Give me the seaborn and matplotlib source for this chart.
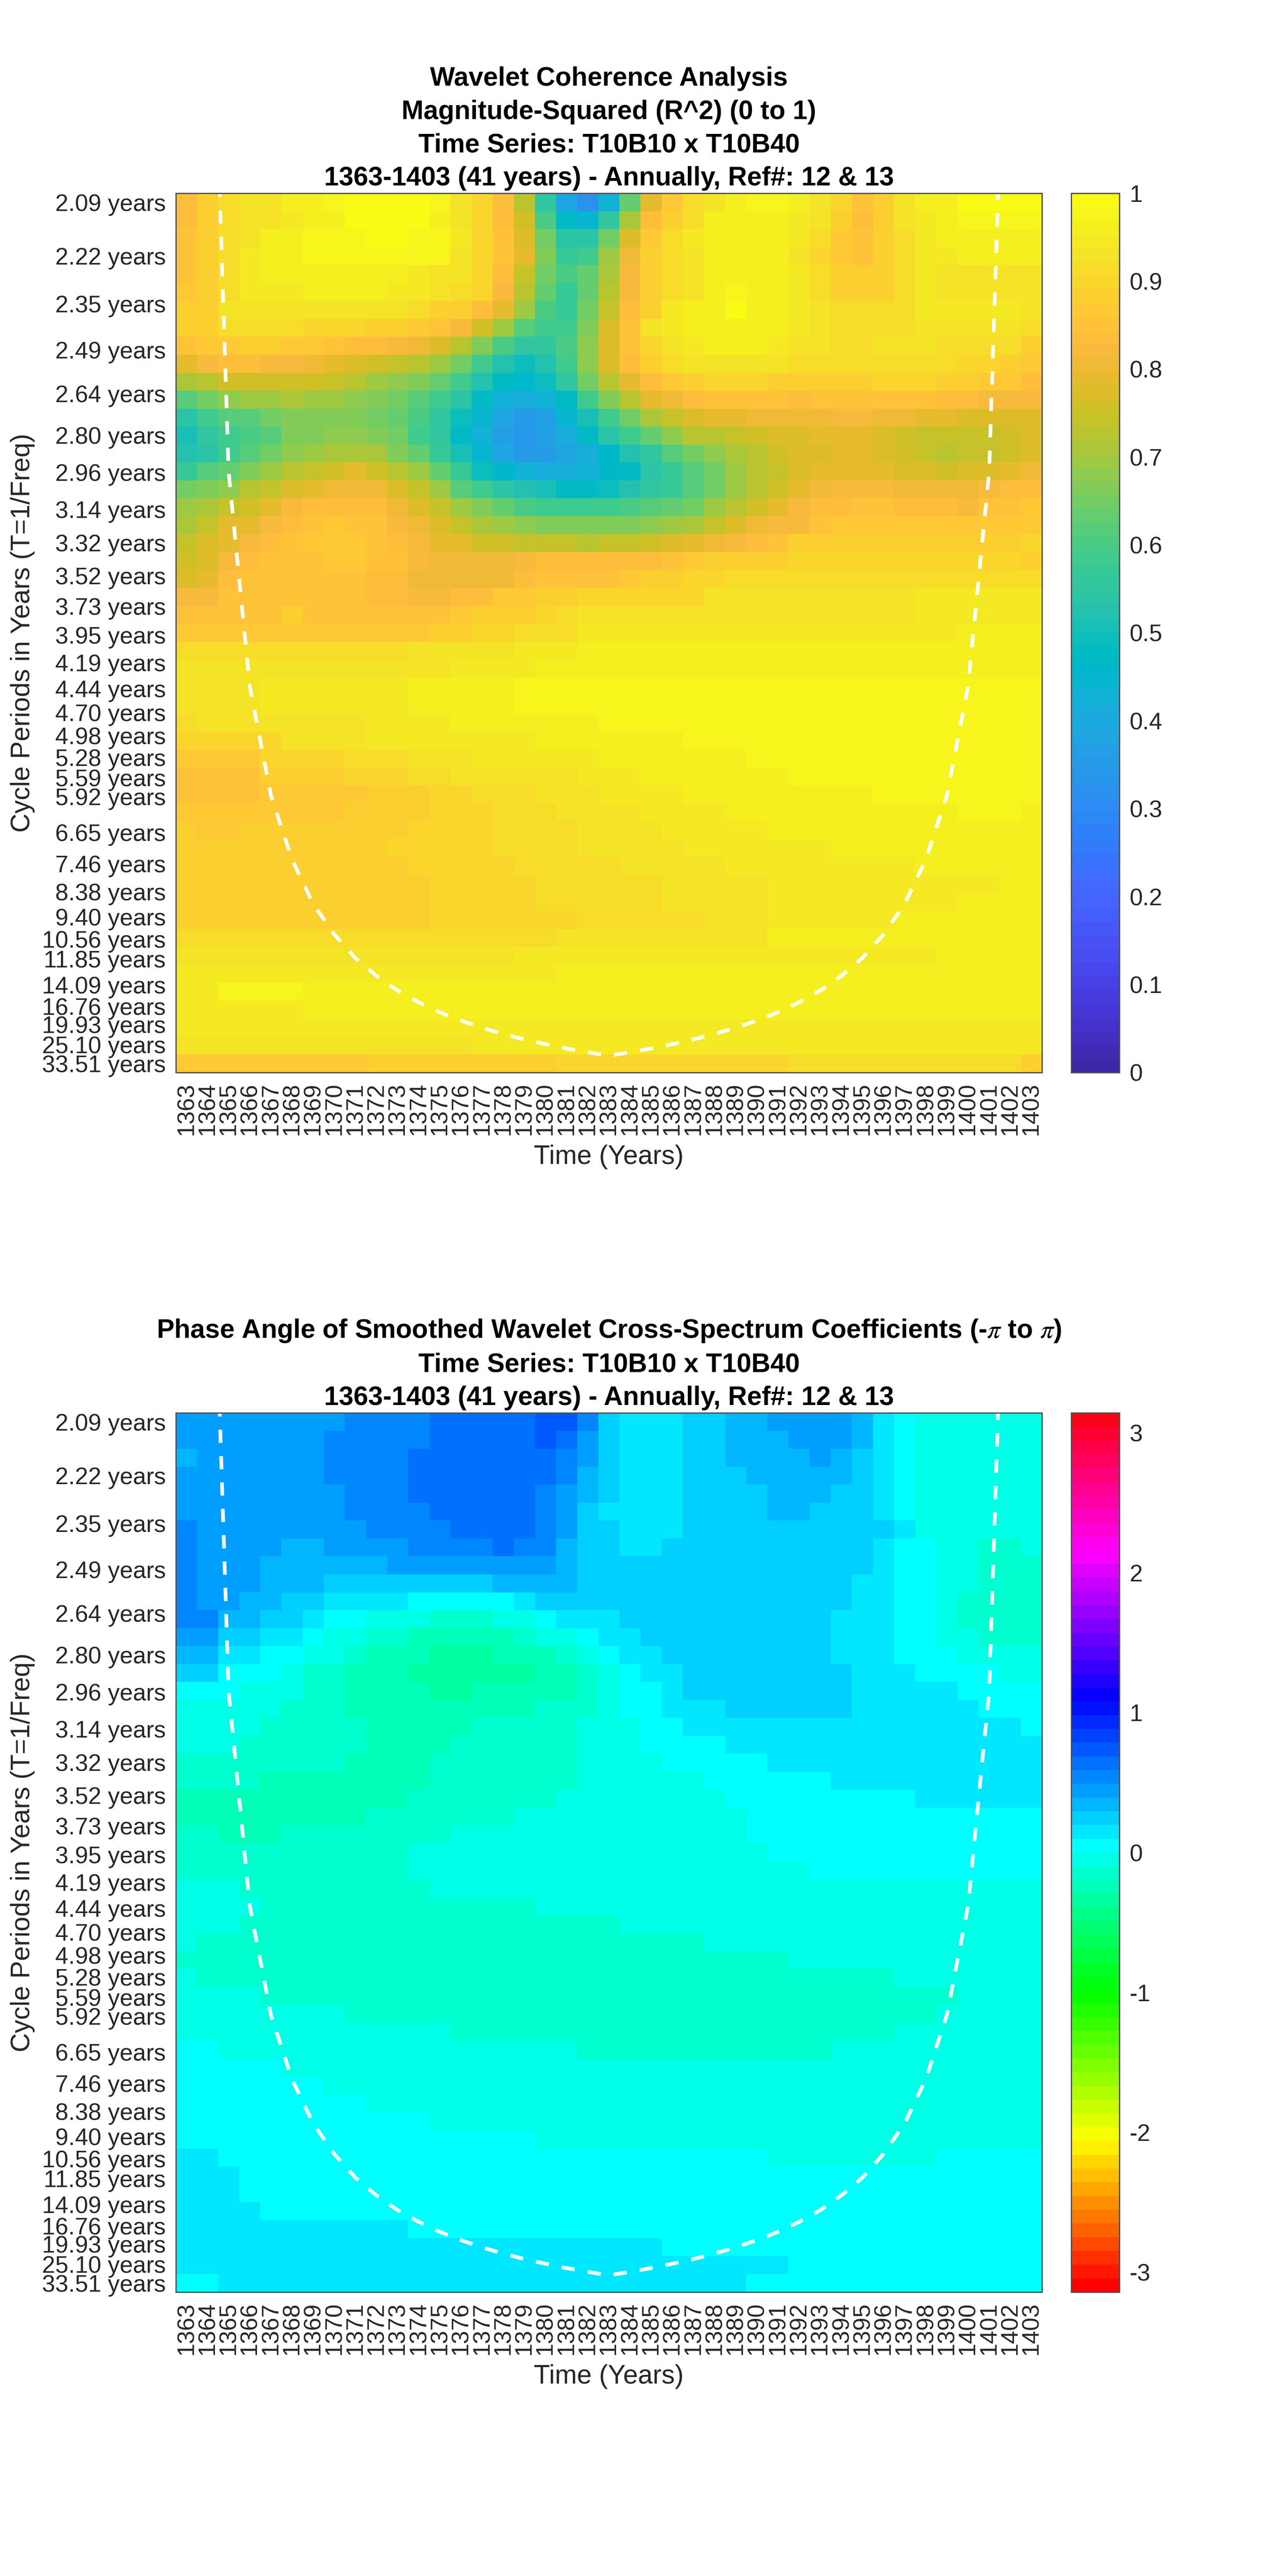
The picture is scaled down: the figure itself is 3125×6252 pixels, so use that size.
import numpy as np
import pandas as pd
import matplotlib
matplotlib.use("Agg")
import matplotlib.pyplot as plt
from matplotlib.colors import ListedColormap, hsv_to_rgb
import seaborn as sns

# ---------- axes labels ----------
years = list(range(1363, 1404))
tick_periods = [2.09, 2.22, 2.35, 2.49, 2.64, 2.80, 2.96, 3.14, 3.32, 3.52, 3.73, 3.95, 4.19, 4.44, 4.70,
                4.98, 5.28, 5.59, 5.92, 6.27, 6.65, 7.05, 7.46, 7.91, 8.38, 8.88, 9.40, 9.96, 10.56, 11.19,
                11.85, 12.55, 13.30, 14.09, 14.93, 15.82, 16.76, 17.76, 18.81, 19.93, 21.11, 22.37, 23.70,
                25.10, 26.60, 28.18, 29.86, 31.63, 33.51]
labelled_periods = [2.09, 2.22, 2.35, 2.49, 2.64, 2.80, 2.96, 3.14, 3.32, 3.52, 3.73, 3.95, 4.19, 4.44, 4.70,
                    4.98, 5.28, 5.59, 5.92, 6.65, 7.46, 8.38, 9.40, 10.56, 11.85, 14.09, 16.76, 19.93, 25.10, 33.51]

# cone of influence, read per year (period in years)
coi_years = [1364, 1365, 1366, 1367, 1368, 1369, 1370, 1371, 1372, 1373, 1374, 1375, 1376, 1377, 1378, 1379, 1380,
             1381, 1382, 1383, 1384, 1385, 1386, 1387, 1388, 1389, 1390, 1391, 1392, 1393, 1394, 1395, 1396, 1397,
             1398, 1399, 1400, 1401, 1402]
coi_periods = [1.47, 2.96, 4.42, 5.90, 7.35, 8.85, 10.3, 11.8, 13.25, 14.75, 16.2, 17.7, 19.15, 20.65, 22.1, 23.6,
               25.05, 26.55, 28.0, 29.5, 28.0, 26.55, 25.05, 23.6, 22.1, 20.65, 19.15, 17.7, 16.2, 14.75, 13.25,
               11.8, 10.3, 8.85, 7.35, 5.90, 4.42, 2.96, 1.47]

# ---------- coherence: one letter per cell = colour level ----------
coh_code = "RQPONMLKJIHGFEDCBAzyxwvutsrqponmlkjihgfedcba"   # R = level 20 ... a = level 63
coh_rows = [
 "khfee ccbaa aabeg krCNR Kxnif ecbbc egjhe ccaaa a",
 "khfee dccaa aaceg kpzHJ Cskhf ccccd ehkhe dcbbb b",
 "jhfec cbbba abbdg jowDD woifd ccccd fijhf dcccc c",
 "jhfdc cbbbb bbbeg jnvBA tmhfe cccce gijhf ddccc c",
 "jhfdc ccccc cdeeg kqwzx slhfe ccccd fhhhf deeee e",
 "ihfdd dcccc ddefg lrxBx rlhfe cbccd fhhhf deeee e",
 "hheee eeeee efhhk ntzBw qkhdc caccd effff ddddd e",
 "hhfff fgggh hijlp tyAAv ojedc ccccd effff eeeee f",
 "jiihh iijkk lmorv zCCzu ojged cccde effee effff h",
 "nlkkl lmnop qrtwA EGEAu okhfe eeeef fffff ffggh i",
 "srppp ppqrt uvxAE HIGCw rnkih ggghh hhhgg ghhii k",
 "ywutt sttuv wyADH KLKHA vrnmk jjjjk jjjjj jkkll l",
 "DAyyw vvvvw xzCGJ NPOJF Awsqo nnmmm mllmm nnooo o",
 "FCAzy vvuuv wACHK OQOLH DAxur rqpoo nnnop qqqqp o",
 "EDAyw utsss vxBFJ NPPNL IECyw usrpo onnop qrqqp o",
 "Byxvt rqpnp rtxBG IKLLK IHDBy wtrqo nnnno opoon m",
 "wvurq onmmm oqtyA DEFHH GECBy wtrpn mlllm mmmlk k",
 "tsqpn lkkkk moqtv xzAAA Azyxw trpnl kkjjk kkljj i",
 "sqnnl kjijj lmoqs tuvvv vvuts qomll jiiii iiiii i",
 "qonlk jiiij klnnp pqqqr qqpon mlkjh hhhhh hhhhh g",
 "polkj jjiij jlmmm mlkkk kkkji hhhhg ggggg ggggg h",
 "onkjj jjjjk kmmmm mkjjj jihhg gffff fffff fffff f",
 "lljjj jjjjk kllkk iihhg ggggg eeeee eeeee ddddd d",
 "jjjjj hjjjj jjjih hhgfe eeeee eeeee eeeee ddddd d",
 "iiiii iiiii iihhg gfffd ddddd ddddd ddddd ddccc c",
 "fffff fffff feeee edddc ccccc ccccc ccccc ccccc c",
 "eeeee eeeee eeedd ddccc ccccc ccccc ccccc ccccc c",
 "eeeed ddddd dcccc cbbbb bbbbb bbbbb bbbbb bbbbb b",
 "eeeed ddddd dcccc cbbbb bbbbb bbbbb bbbbb bbbbb b",
 "feeee eeeed dddcc ccccc bbbbb bbbbb bbbbb bbbbb b",
 "ggggg eeeed ddddd ddccc ccccb bbbbb bbbbb bbbbb b",
 "iiiig gggff feeed ddddd ccccc ccbbb bbbbb bbbbb b",
 "jjjjh hhhgg gffee eeeed ddccc ccccb bbbbb bbbbb b",
 "jjjji iiiih hhggf ffeee ddddc ccccc cccbb bbbbb b",
 "iiiii iiihh hhggg fffee eeddd dcccc ccccc ccbbb c",
 "hiihh hhhhh hgggg ffffe eeedd dddcc ccccc ccccc c",
 "hhhhh hhhhh ggggg ffffe eeeed ddddd dcccc ccccc c",
 "hhhhh hhhhh hgggg gffff feeee edddd ddddd ccccc c",
 "hhhhh hhhhh hhggg ggfff fffee eeedd ddddd ddddc c",
 "hhhhh hhhhh hhggg ggfff fffee eeedd ddddd ddccc c",
 "hhhhh hhhhh hhggg ggggf fffff eeedd ddddc ccccc c",
 "fffff fffff fffff fffee eeeee eeecc ccccc ccccc c",
 "eeeee eeeee eeeee edddd ddddd ddddd ddddd dcccc c",
 "ddddd ddddd ddddd dddcc ccccc ccccc ccccc ccccc c",
 "ddbbb bcccc ccccc ccccc ccccc ccccc ccccc ccccc c",
 "ddddd dcccc ccccc ccccc ccccc ccccc ccccc ccccc c",
 "ddddd ddddd ddddd ddddd ddddd ddddd ddddd ddddd d",
 "eeeee eeeee eeeed ddddd ddddd ddddd ddddd ddddd d",
 "iiiii iiiih hhhhh hhhgg ggggg ggggf fffff fffff h",
]

# ---------- phase: one sign per cell = colour level, d (greenest) ... 0 (cyan) ... 8 (bluest) ----------
phase_code = "dcba012345678"   # d = level 28 ... 8 = level 40
phase_rows = [
 "44444 44455 55666 66775 21112 23344 44310 aaaaa a",
 "44444 44555 55666 66764 21112 23334 44310 aaaaa a",
 "34444 44555 56666 66654 21112 23333 43210 aaaaa a",
 "44444 44555 56666 66653 21112 22333 33210 aaaaa a",
 "44444 44455 56666 66543 21112 22233 32210 aaaaa a",
 "44444 44455 55666 66542 11112 22233 22210 aaaaa a",
 "54444 44445 55566 66542 21112 22222 22221 aaaaa a",
 "54444 33444 45555 65532 21122 22222 22210 0aabb a",
 "54443 33333 44444 44432 22222 22222 22210 0aabb b",
 "54443 33222 22222 33332 22222 22222 22110 0aabb b",
 "54433 22111 10000 01222 22222 22222 22110 0abbb b",
 "55332 2100a aabbb aa011 12222 22222 21110 0abbb b",
 "44221 10aab bcccc cbaa0 11222 22222 21110 0aabb b",
 "33110 0aabc ccddd cccba 01122 22222 21110 00aaa a",
 "22000 abbcc cdddd ddccb a0112 22222 22111 0000a a",
 "000aa abbcc ccddc ccccb a0012 22222 22111 11000 0",
 "aaaaa bbbcc ccccc ccbbb a0011 12222 22111 11100 0",
 "aaaab bbbbc ccccb bbbba aa001 11111 11111 11111 0",
 "aaabb bbbbc cccbb bbbba aa000 01111 11111 11111 1",
 "bbbbb bbbcc ccbbb bbbba aaa00 00011 11111 11111 1",
 "bbbbc ccccc ccbbb bbbba aaaaa 00000 01111 11111 1",
 "ccccc ccccc cbbbb bbbaa aaaaa a0000 00000 11111 1",
 "ccccc ccccb bbbbb baaaa aaaaa aa000 00000 00000 0",
 "bbccc bbbbb bbbaa aaaaa aaaaa aa000 00000 00000 0",
 "bbbbb bbbbb baaaa aaaaa aaaaa aaa00 00000 00000 0",
 "bbbbb bbbbb baaaa aaaaa aaaaa aaaaa 00000 00000 0",
 "aaabb bbbbb bbaaa aaaaa aaaaa aaaaa aaaaa aaaaa a",
 "aaaab bbbbb bbbbb bbaaa aaaaa aaaaa aaaaa aaaaa a",
 "aaabb bbbbb bbbbb bbbbb baaaa aaaaa aaaaa aaaaa a",
 "abbbb bbbbb bbbbb bbbbb bbbbb aaaaa aaaaa aaaaa a",
 "bbbbb bbbbb bbbbb bbbbb bbbbb bbbba aaaaa aaaaa a",
 "abbbb bbbbb bbbbb bbbbb bbbbb bbbbb bbbba aaaaa a",
 "aaaab bbbbb bbbbb bbbbb bbbbb bbbbb bbbbb bbaaa a",
 "aaaaa aaabb bbbbb bbbbb bbbbb bbbbb bbbbb baaaa a",
 "aaaaa aaaaa aaabb bbbbb bbbbb bbbbb bbbba aaaaa a",
 "00aaa aaaaa aaaaa aaaab bbbbb bbbbb baaaa aaaaa a",
 "00000 aaaaa aaaaa aaaaa aaaaa aaaaa aaaaa aaaaa a",
 "00000 00aaa aaaaa aaaaa aaaaa aaaaa aaaaa aaaaa a",
 "00000 0000a aaaaa aaaaa aaaaa aaaaa aaaaa aaaaa a",
 "00000 00000 00aaa aaaaa aaaaa aaaaa aaaaa aaaaa a",
 "00000 00000 00000 00aaa aaaaa aaaaa aaaaa aaaaa a",
 "11000 00000 00000 00000 00000 000aa aaaaa a0000 0",
 "11100 00000 00000 00000 00000 00000 00000 00000 0",
 "11100 00000 00000 00000 00000 00000 00000 00000 0",
 "11110 00000 00000 00000 00000 00000 00000 00000 0",
 "11111 11111 10000 00000 00000 00000 00000 00000 0",
 "11111 11111 11111 11111 11100 00000 00000 00000 0",
 "11111 11111 11111 11111 11111 11110 00000 00000 0",
 "00111 11111 11111 11111 11111 11000 00000 00000 0",
]

# ---------- colour maps ----------
parula = ListedColormap([
 [0.2422,0.1504,0.6603],[0.2504,0.1650,0.7076],[0.2578,0.1818,0.7511],[0.2647,0.1978,0.7952],
 [0.2706,0.2147,0.8364],[0.2751,0.2342,0.8710],[0.2783,0.2559,0.8991],[0.2803,0.2782,0.9221],
 [0.2813,0.3006,0.9414],[0.2810,0.3228,0.9579],[0.2795,0.3447,0.9717],[0.2760,0.3667,0.9829],
 [0.2699,0.3892,0.9906],[0.2602,0.4123,0.9952],[0.2440,0.4358,0.9988],[0.2206,0.4603,0.9973],
 [0.1963,0.4847,0.9892],[0.1834,0.5074,0.9798],[0.1786,0.5289,0.9682],[0.1764,0.5499,0.9520],
 [0.1687,0.5703,0.9359],[0.1540,0.5902,0.9218],[0.1460,0.6091,0.9079],[0.1380,0.6276,0.8973],
 [0.1248,0.6459,0.8883],[0.1113,0.6635,0.8763],[0.0952,0.6798,0.8598],[0.0689,0.6948,0.8394],
 [0.0297,0.7082,0.8163],[0.0036,0.7203,0.7917],[0.0067,0.7312,0.7660],[0.0433,0.7411,0.7394],
 [0.0964,0.7500,0.7120],[0.1408,0.7584,0.6842],[0.1717,0.7670,0.6554],[0.1938,0.7758,0.6251],
 [0.2161,0.7843,0.5923],[0.2470,0.7918,0.5567],[0.2906,0.7973,0.5188],[0.3406,0.8008,0.4789],
 [0.3909,0.8029,0.4354],[0.4456,0.8024,0.3909],[0.5044,0.7993,0.3480],[0.5616,0.7942,0.3045],
 [0.6174,0.7876,0.2612],[0.6720,0.7793,0.2227],[0.7242,0.7698,0.1910],[0.7738,0.7598,0.1646],
 [0.8203,0.7498,0.1535],[0.8634,0.7406,0.1596],[0.9035,0.7330,0.1774],[0.9393,0.7288,0.2100],
 [0.9728,0.7298,0.2394],[0.9956,0.7434,0.2371],[0.9970,0.7659,0.2199],[0.9952,0.7893,0.2028],
 [0.9892,0.8136,0.1885],[0.9786,0.8386,0.1766],[0.9676,0.8639,0.1643],[0.9610,0.8890,0.1537],
 [0.9597,0.9135,0.1423],[0.9628,0.9373,0.1265],[0.9691,0.9606,0.1064],[0.9769,0.9839,0.0805]])
hsv64 = ListedColormap(hsv_to_rgb(np.column_stack([np.arange(64) / 64, np.ones(64), np.ones(64)])))


def decode(rows, code, first_level):
    out = []
    for i, r in enumerate(rows):
        s = r.replace(" ", "")
        if len(s) != len(years):
            raise ValueError(f"row {i} has {len(s)} cells: {r}")
        out.append([first_level + code.index(ch) for ch in s])
    return np.array(out, dtype=float)


coh_values = (decode(coh_rows, coh_code, 20) + 0.5) / 64
phase_values = -np.pi + (decode(phase_rows, phase_code, 28) + 0.5) * 2 * np.pi / 64

# ---------- figure ----------
sns.set_theme(style="white")
plt.rcParams["font.family"] = ["Liberation Sans", "DejaVu Sans"]
plt.rcParams["mathtext.fontset"] = "stix"
W, H = 3125, 6252
DPI = 400
fig = plt.figure(figsize=(W / DPI, H / DPI), dpi=DPI, facecolor="white")

INK = "#262626"
TICK_FS = 10.35
LABEL_FS = 11.6
TITLE_FS = 11.55
f_top = 1 / tick_periods[0]
f_bot = 1 / tick_periods[-1]


def period_to_row(p):
    """Rows are evenly spaced in frequency: first row centre = 2.09 y, last = 33.51 y."""
    return 0.5 + 48 * (f_top - 1 / np.asarray(p, dtype=float)) / (f_top - f_bot)


def panel(values, top_px, cmap, vmin, vmax, title, cticks, cticklabels):
    ax = fig.add_axes([427 / W, 1 - (top_px + 2134) / H, 2103 / W, 2134 / H])
    cax = fig.add_axes([2601 / W, 1 - (top_px + 2134) / H, 117 / W, 2134 / H])
    frame = pd.DataFrame(values, columns=years)
    sns.heatmap(frame, ax=ax, cbar_ax=cax, cmap=cmap, vmin=vmin, vmax=vmax,
                xticklabels=years, yticklabels=False)
    ax.set_xticks(np.arange(len(years)) + 0.5)
    ax.set_xticklabels([str(y) for y in years], rotation=90, fontsize=TICK_FS, color=INK)
    ax.set_yticks(period_to_row(tick_periods))
    ax.set_yticklabels([f"{p:.2f} years" if p in labelled_periods else "" for p in tick_periods],
                       fontsize=TICK_FS, color=INK)
    ax.tick_params(axis="both", which="major", direction="in", length=3.6, width=0.5, color=INK,
                   top=True, right=True, bottom=True, left=True, pad=4.4)
    ax.plot(np.array(coi_years) - years[0] + 0.5, period_to_row(coi_periods), color="white", lw=1.6,
            dashes=(3.6, 3.6), dash_capstyle="butt", scaley=False, scalex=False)
    ax.set_xlim(0, len(years))
    ax.set_ylim(len(tick_periods), 0)
    ax.set_xlabel("Time (Years)", fontsize=LABEL_FS, color=INK, labelpad=4)
    ax.set_ylabel("Cycle Periods in Years (T=1/Freq)", fontsize=LABEL_FS, color=INK, labelpad=3)
    ax.set_title(title, fontsize=TITLE_FS, fontweight="bold", color="black", linespacing=1.44, pad=3.4)
    for s in ax.spines.values():
        s.set_visible(True)
        s.set_linewidth(0.55)
        s.set_color("#505050")
    cax.set_yticks(cticks)
    cax.set_yticklabels(cticklabels)
    cax.tick_params(axis="y", direction="in", length=3.6, width=0.5, color=INK, labelsize=TICK_FS,
                    labelcolor=INK, right=True, left=False, pad=4.4)
    for s in cax.spines.values():
        s.set_visible(True)
        s.set_linewidth(0.55)
        s.set_color("#505050")


panel(coh_values, 469, parula, 0, 1,
      "Wavelet Coherence Analysis\nMagnitude-Squared (R^2) (0 to 1)\nTime Series: T10B10 x T10B40\n"
      "1363-1403 (41 years) - Annually, Ref#: 12 & 13",
      [0, 0.1, 0.2, 0.3, 0.4, 0.5, 0.6, 0.7, 0.8, 0.9, 1],
      ["0", "0.1", "0.2", "0.3", "0.4", "0.5", "0.6", "0.7", "0.8", "0.9", "1"])
panel(phase_values, 3429, hsv64, -np.pi, np.pi,
      "Phase Angle of Smoothed Wavelet Cross-Spectrum Coefficients (-$\\pi$ to $\\pi$)\n"
      "Time Series: T10B10 x T10B40\n1363-1403 (41 years) - Annually, Ref#: 12 & 13",
      [-3, -2, -1, 0, 1, 2, 3],
      ["-3", "-2", "-1", "0", "1", "2", "3"])

fig.savefig("out.png", dpi=DPI, facecolor="white")
